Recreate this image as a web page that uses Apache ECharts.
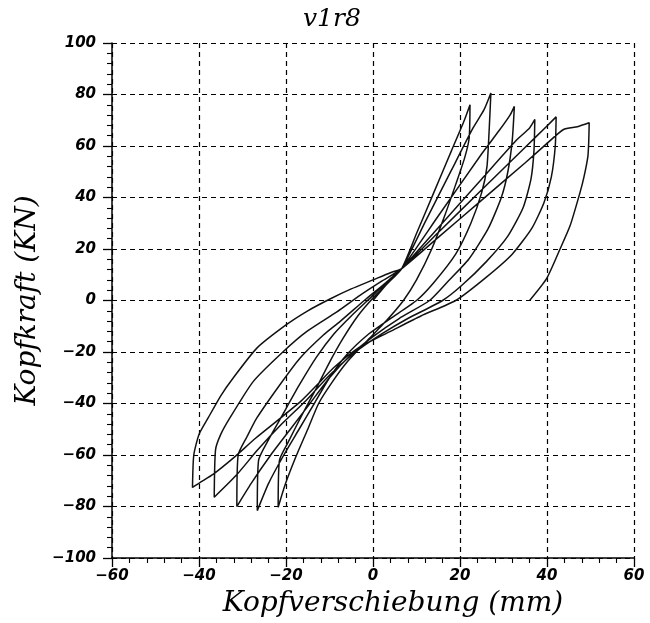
<!DOCTYPE html>
<html>
<head>
<meta charset="utf-8">
<script src="https://cdn.jsdelivr.net/npm/echarts@6/dist/echarts.min.js"></script>
<style>html,body{margin:0;padding:0;background:#fff;}#c{width:650px;height:623px;}</style>
</head>
<body>
<div id="c"></div>
<script>
// Axis settings / tick labels
const xTicks = [-60, -40, -20, 0, 20, 40, 60];
const yTicks = [-100, -80, -60, -40, -20, 0, 20, 40, 60, 80, 100];
const chartTitle = 'v1r8';
const xName = 'Kopfverschiebung (mm)';
const yName = 'Kopfkraft (KN)';

// Hysteresis branches [displacement mm, force kN], in test order
const loadUp1 = [[0,0],[3,6],[6.6,12.4],[10,26],[14,42],[18,58],[21,70],[22.3,76]];
const unload1 = [[22.3,76],[22.1,63],[21,55],[19,45],[16.5,33],[13.5,20],[10,8],[7,0],[3,-8],[-1,-15],[-6,-24],[-9.5,-32],[-12.5,-40],[-15,-50],[-17.8,-61],[-20.3,-72],[-21.8,-80.3]];
const reload1 = [[-21.8,-80.3],[-21.5,-62],[-19.5,-55],[-16.5,-45],[-13,-34],[-10,-24],[-7,-15],[-3.5,-6],[0,1],[3.5,7],[6.6,12.4],[12,30.5],[18,50.5],[23,67],[25.5,74],[27.1,80.6]];
const unload2 = [[27.1,80.6],[26.7,66],[26.2,52],[25,42],[22.5,30],[19,18],[14,7],[10,0],[4,-7],[-1,-13],[-6,-21],[-10,-30],[-13.5,-40],[-17,-50],[-20.5,-60],[-24,-71],[-26.6,-81.6]];
const reload2 = [[-26.6,-81.6],[-26.3,-62],[-24,-54],[-21,-45],[-17,-33],[-13,-22],[-9,-13],[-5,-6],[0,2],[4,8.5],[6.6,12.4],[15,32.8],[25,57],[29,66],[31.5,72],[32.5,75.4]];
const unload3 = [[32.5,75.4],[32,62],[31,50],[29.5,40],[26.5,28],[22,16],[17,7],[13,0],[6,-7],[0,-14],[-5,-21],[-10,-30],[-14.5,-40],[-19,-50],[-23.5,-60],[-28,-71],[-31.3,-80]];
const reload3 = [[-31.3,-80],[-31,-60],[-29,-53],[-26.7,-45.6],[-21.4,-32.7],[-16.8,-22.4],[-11.4,-13.4],[-7.6,-8.2],[-2,0],[3,7],[6.6,12.4],[15,28.3],[25,47.2],[33,62.3],[36,67],[37.2,70.3]];
const unload4 = [[37.2,70.3],[37,58],[36.3,47],[34.5,36],[31,25],[26,15],[20.5,6],[16,0],[8,-7],[2,-13],[-4,-20],[-10,-29],[-15.5,-39],[-21,-48],[-26.5,-58],[-31.5,-68],[-36.5,-76.4]];
const reload4 = [[-36.5,-76.4],[-36.2,-58],[-35,-52],[-32.9,-45.6],[-27.5,-31.4],[-20.6,-19.8],[-15.2,-12],[-8.3,-4.4],[-3,2],[2,7.5],[6.6,12.4],[15,26.4],[25,43],[35,59.5],[40,67.8],[42.1,71.3]];
const unload5 = [[42.1,71.3],[41.9,60],[41,48],[39.3,38],[36.5,28],[32,18],[26,9],[19,0],[11,-6],[4,-12],[-3,-18],[-9,-26],[-13,-33],[-16.5,-39],[-21.5,-46],[-27,-53.5],[-32,-61],[-36.7,-67.4],[-39.8,-70.7],[-41.5,-72.6]];
const reload5 = [[-41.5,-72.6],[-41.2,-60],[-40,-52],[-37.9,-45.6],[-35,-37],[-32.1,-30],[-26.7,-18.5],[-20,-9.5],[-15,-4],[-10,0.5],[-5,4.5],[0,8],[4,10.8],[6.6,12.4],[15,24.5],[25,39],[35,53.5],[40,61],[43.8,66.4],[47,67.5],[49.7,69]];
const unload6 = [[49.7,69],[49.6,62],[49.4,56],[48.5,48],[47.6,42],[45.3,29],[43,20],[39.9,8.5],[36,0]];

const branches = [loadUp1, unload1, reload1, unload2, reload2, unload3, reload3, unload4, reload4, unload5, reload5, unload6];
const path = [];
branches.forEach((b, i) => b.forEach((p, j) => { if (i === 0 || j > 0) path.push(p); }));

const fmt = v => (v < 0 ? '\u2212' + Math.abs(v) : String(v));
const labelStyle = { color: '#000', fontFamily: 'DejaVu Sans', fontStyle: 'italic', fontWeight: 'bold', fontSize: 15 };
const nameStyle = { color: '#000', fontFamily: 'DejaVu Serif', fontStyle: 'italic', fontWeight: 'normal', fontSize: 28 };
const dash = { color: '#000', type: [5, 4], width: 1.2 };

const chart = echarts.init(document.getElementById('c'), null, { renderer: 'canvas' });
chart.setOption({
  animation: false,
  backgroundColor: '#fff',
  title: { text: chartTitle, left: 298, top: 2, textStyle: { color: '#000', fontFamily: 'DejaVu Serif', fontStyle: 'italic', fontWeight: 'normal', fontSize: 25 } },
  grid: { left: 112, right: 16, top: 43, bottom: 62 },
  xAxis: {
    type: 'value', min: xTicks[0], max: xTicks[xTicks.length - 1], interval: xTicks[1] - xTicks[0],
    name: xName, nameLocation: 'middle', nameGap: 32, nameTextStyle: Object.assign({ padding: [0, 0, 0, 40] }, nameStyle),
    axisLine: { show: true, onZero: false, lineStyle: { color: '#000', width: 1.5 } },
    axisTick: { show: true, length: 9, lineStyle: { color: '#000', width: 1.3 } },
    minorTick: { show: true, splitNumber: 5, length: 5, lineStyle: { color: '#000', width: 1.1 } },
    axisLabel: Object.assign({ formatter: fmt, margin: 11 }, labelStyle),
    splitLine: { show: true, lineStyle: dash }
  },
  yAxis: {
    type: 'value', min: yTicks[0], max: yTicks[yTicks.length - 1], interval: yTicks[1] - yTicks[0],
    name: yName, nameLocation: 'middle', nameGap: 68, nameTextStyle: nameStyle,
    axisLine: { show: true, onZero: false, lineStyle: { color: '#000', width: 1.5 } },
    axisTick: { show: true, length: 9, lineStyle: { color: '#000', width: 1.3 } },
    minorTick: { show: true, splitNumber: 5, length: 5, lineStyle: { color: '#000', width: 1.1 } },
    axisLabel: Object.assign({ formatter: fmt, margin: 16 }, labelStyle),
    splitLine: { show: true, lineStyle: dash }
  },
  series: [{
    type: 'line', data: path, showSymbol: false, smooth: 0.2,
    lineStyle: { color: '#111', width: 1.5 }
  }]
});
</script>
</body>
</html>
